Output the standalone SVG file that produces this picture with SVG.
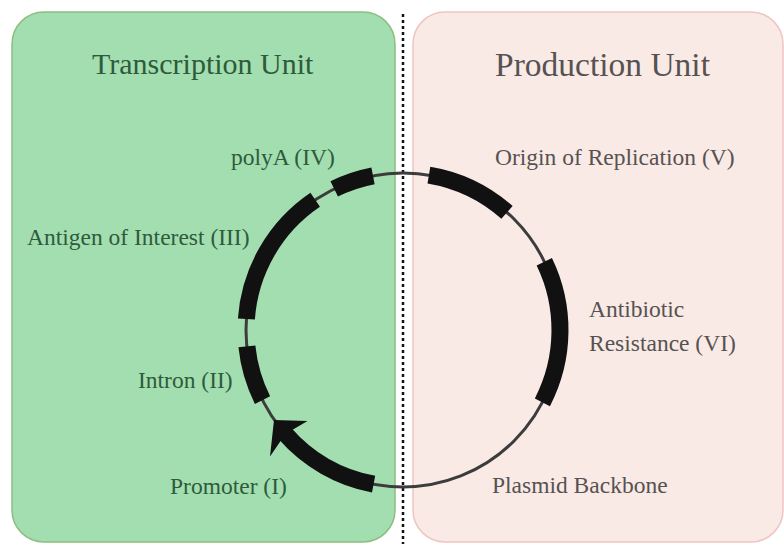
<svg xmlns="http://www.w3.org/2000/svg" width="784" height="544" viewBox="0 0 784 544">
  <style>
    .lbl { font-family: "Liberation Serif", "Times New Roman", serif; font-size: 23.5px; }
    .g { fill: #2e5b3b; }
    .p { fill: #575252; }
    .seg { fill: none; stroke: #111; stroke-width: 17; stroke-linecap: butt; }
  </style>
  <rect x="0" y="0" width="784" height="544" fill="#ffffff"/>
  <g id="transcription-unit">
    <rect x="12" y="12" width="383" height="530" rx="32" ry="32" fill="#a3deb0" stroke="#8dbd82" stroke-width="1.5"/>
    <text class="lbl g" x="92" y="74" style="font-size:30px">Transcription Unit</text>
  </g>
  <g id="production-unit">
    <rect x="413" y="12" width="370" height="530" rx="32" ry="32" fill="#f9eae5" stroke="#efc4c2" stroke-width="1.5"/>
    <text class="lbl p" x="495" y="76" style="font-size:33.5px">Production Unit</text>
  </g>
  <line id="divider" x1="403" y1="14" x2="403" y2="544" stroke="#111" stroke-width="2.5" stroke-dasharray="3 3"/>
  <g id="connectors">
    <circle id="plasmid-backbone-line" cx="403" cy="330" r="157" fill="none" stroke="#3c3c3c" stroke-width="3"/>
  </g>
  <g id="promoter">
    <path class="seg" d="M373.6,484.2 A157,157 0 0 1 284.5,433.0"/>
    <polygon points="274.0,420.0 307.5,421.0 285.4,434.0 270.0,456.5" fill="#111"/>
    <text class="lbl g" x="170" y="494">Promoter (I)</text>
  </g>
  <g id="intron">
    <path class="seg" d="M262.5,400.1 A157,157 0 0 1 246.9,346.4"/>
    <text class="lbl g" x="138" y="388">Intron (II)</text>
  </g>
  <g id="antigen">
    <path class="seg" d="M246.4,319.0 A157,157 0 0 1 315.2,199.8"/>
    <text class="lbl g" x="27" y="245">Antigen of Interest (III)</text>
  </g>
  <g id="polya">
    <path class="seg" d="M334.2,188.9 A157,157 0 0 1 373.0,175.9"/>
    <text class="lbl g" x="231" y="165">polyA (IV)</text>
  </g>
  <g id="origin">
    <path class="seg" d="M428.9,175.1 A157,157 0 0 1 507.0,212.4"/>
    <text class="lbl p" x="495" y="165">Origin of Replication (V)</text>
  </g>
  <g id="antibiotic">
    <path class="seg" d="M544.3,261.7 A157,157 0 0 1 542.4,402.3"/>
    <text class="lbl p" x="589" y="317">Antibiotic</text>
    <text class="lbl p" x="589" y="351">Resistance (VI)</text>
  </g>
  <g id="backbone">
    <text class="lbl p" x="492" y="493">Plasmid Backbone</text>
  </g>
</svg>
